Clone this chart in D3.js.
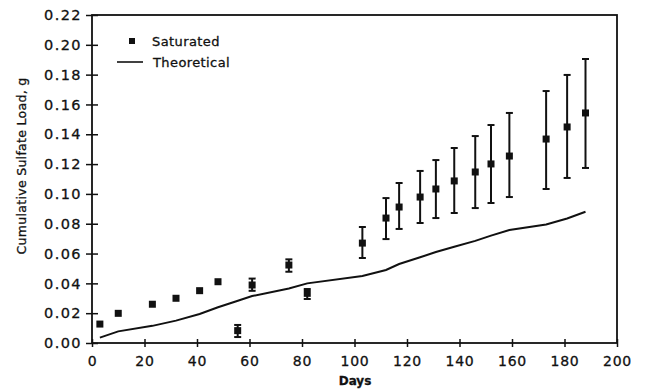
<!DOCTYPE html>
<html><head><meta charset="utf-8">
<script src="https://cdn.jsdelivr.net/npm/d3@7"></script>
<style>
html,body{margin:0;padding:0;background:#fff;}
text{font-family:"DejaVu Sans",sans-serif;fill:#111;stroke:#111;stroke-width:0.3px;}
</style></head>
<body>
<svg id="c" width="646" height="391"></svg>
<script>
// Saturated measurements
const satDays  = [3, 10, 23, 32, 41, 48, 55.5, 61, 75, 82, 103, 112, 117, 125, 131, 138, 146, 152, 159, 173, 181, 188];
const satVals  = [0.0127, 0.0199, 0.026, 0.030, 0.0351, 0.0411, 0.0083, 0.0389, 0.0523, 0.0333, 0.067, 0.0838, 0.0912, 0.0979, 0.1033, 0.1087, 0.1147, 0.1201, 0.1254, 0.1368, 0.1449, 0.1543];
const satHigh  = [null, null, null, null, null, null, 0.0121, 0.0432, 0.0561, 0.0362, 0.0778, 0.0972, 0.1073, 0.1154, 0.1227, 0.1308, 0.1388, 0.1462, 0.1543, 0.1690, 0.1798, 0.1905];
const satLow   = [null, null, null, null, null, null, 0.0040, 0.0350, 0.0478, 0.0295, 0.0570, 0.0697, 0.0765, 0.0805, 0.0838, 0.0872, 0.0905, 0.0939, 0.0979, 0.1033, 0.1107, 0.1174];
// Theoretical curve
const theoDays = [3, 10, 23, 32, 41, 48, 55, 61, 75, 82, 103, 112, 117, 125, 131, 138, 146, 152, 159, 173, 181, 188];
const theoVals = [0.0036, 0.0078, 0.0115, 0.0150, 0.0195, 0.0240, 0.0280, 0.0315, 0.0365, 0.0400, 0.0450, 0.0490, 0.0530, 0.0575, 0.0610, 0.0645, 0.0685, 0.0720, 0.0758, 0.0795, 0.0835, 0.0880];
const xTicks = [0, 20, 40, 60, 80, 100, 120, 140, 160, 180, 200];
const yTicks = [0, 0.02, 0.04, 0.06, 0.08, 0.10, 0.12, 0.14, 0.16, 0.18, 0.20, 0.22];

const svg = d3.select("#c");
const L = 92, R = 617, T = 15, B = 343;
const x = d3.scaleLinear().domain([0, 200]).range([L, R]);
const y = d3.scaleLinear().domain([0, 0.22]).range([B, T]);

// frame
svg.append("rect").attr("x", L).attr("y", T).attr("width", R - L).attr("height", B - T)
  .attr("fill", "none").attr("stroke", "#111").attr("stroke-width", 1.8);

// axes
const xa = svg.append("g").attr("transform", `translate(0,${B})`)
  .call(d3.axisBottom(x).tickValues(xTicks).tickSize(0).tickPadding(13).tickFormat(d3.format("d")));
xa.select(".domain").remove();
xa.selectAll(".tick line").attr("y1", -4).attr("y2", 4).attr("stroke", "#111").attr("stroke-width", 1.5);
xa.selectAll("text").attr("font-size", 14).attr("letter-spacing", 0.8).attr("font-family", "DejaVu Sans").attr("fill", "#111");

const ya = svg.append("g").attr("transform", `translate(${L},0)`)
  .call(d3.axisLeft(y).tickValues(yTicks).tickSize(0).tickPadding(10).tickFormat(d3.format(".2f")));
ya.select(".domain").remove();
ya.selectAll(".tick line").attr("x1", -6).attr("x2", 6).attr("stroke", "#111").attr("stroke-width", 1.5);
ya.selectAll("text").attr("font-size", 14.5).attr("letter-spacing", 1.4).attr("font-family", "DejaVu Sans").attr("fill", "#111");

// axis titles
svg.append("text").attr("x", 355).attr("y", 385).attr("text-anchor", "middle")
  .attr("font-size", 12).attr("font-weight", "bold").text("Days");
svg.append("text").attr("transform", `translate(26,166) rotate(-90)`).attr("text-anchor", "middle")
  .attr("font-size", 12.5).attr("letter-spacing", 0.3).text("Cumulative Sulfate Load, g");

// theoretical line
const line = d3.line().x((d, i) => x(theoDays[i])).y(d => y(d));
svg.append("path").datum(theoVals).attr("d", line).attr("fill", "none")
  .attr("stroke", "#111").attr("stroke-width", 2);

// error bars
const eb = satDays.map((d, i) => ({d, v: satVals[i], h: satHigh[i], l: satLow[i]})).filter(e => e.h !== null);
const g = svg.append("g").attr("stroke", "#111").attr("stroke-width", 2);
g.selectAll(".v").data(eb).join("line").attr("x1", e => x(e.d)).attr("x2", e => x(e.d))
  .attr("y1", e => y(e.h)).attr("y2", e => y(e.l));
g.selectAll(".t").data(eb).join("line").attr("x1", e => x(e.d) - 3.5).attr("x2", e => x(e.d) + 3.5)
  .attr("y1", e => y(e.h)).attr("y2", e => y(e.h));
g.selectAll(".b").data(eb).join("line").attr("x1", e => x(e.d) - 3.5).attr("x2", e => x(e.d) + 3.5)
  .attr("y1", e => y(e.l)).attr("y2", e => y(e.l));

// markers
svg.selectAll(".m").data(satDays).join("rect")
  .attr("x", (d) => x(d) - 3.5).attr("y", (d, i) => y(satVals[i]) - 3.5)
  .attr("width", 7).attr("height", 7).attr("fill", "#111");

// legend
svg.append("rect").attr("x", 129).attr("y", 38).attr("width", 6).attr("height", 6).attr("fill", "#111");
svg.append("text").attr("x", 152).attr("y", 46).attr("font-size", 13).attr("letter-spacing", 0.4).text("Saturated");
svg.append("line").attr("x1", 117).attr("x2", 143).attr("y1", 62).attr("y2", 62).attr("stroke", "#111").attr("stroke-width", 1.6);
svg.append("text").attr("x", 153).attr("y", 67).attr("font-size", 13).attr("letter-spacing", 0.4).text("Theoretical");
</script>
</body></html>
